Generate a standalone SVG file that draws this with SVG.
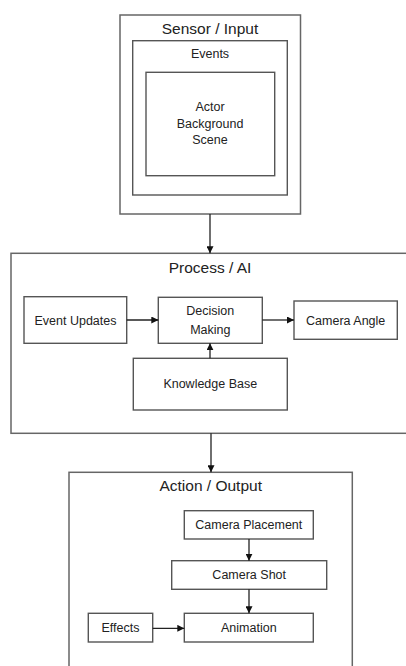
<svg xmlns="http://www.w3.org/2000/svg" width="406" height="666" viewBox="0 0 406 666">
<defs>
<marker id="ah" viewBox="0 0 10 10" refX="10" refY="5" markerWidth="7" markerHeight="7" markerUnits="userSpaceOnUse" orient="auto">
<path d="M0,0 L10,5 L0,10 z" fill="#111"/>
</marker>
</defs>
<style>
.box{fill:#fff;stroke:#555;stroke-width:1.4}
.big{fill:none;stroke:#666;stroke-width:1.5}
.t{font-family:"Liberation Sans",Arial,sans-serif;font-size:12.5px;fill:#222;text-anchor:middle}
.h{font-family:"Liberation Sans",Arial,sans-serif;font-size:15.5px;fill:#222;text-anchor:middle}
.c{stroke:#222;stroke-width:1.3;fill:none;marker-end:url(#ah)}
</style>
<rect width="406" height="666" fill="#fff"/>
<g id="sensor">
<rect class="big" x="120" y="15" width="180.5" height="199"/>
<text class="h" x="210" y="34">Sensor / Input</text>
</g>
<g id="events">
<rect class="box" x="132.7" y="40.7" width="154.6" height="154.3"/>
<text class="t" x="210" y="58">Events</text>
</g>
<g id="scene">
<rect class="box" x="146" y="72.3" width="128.7" height="103.4"/>
<text class="t" x="210" y="111">Actor</text>
<text class="t" x="210" y="127.7">Background</text>
<text class="t" x="210" y="144">Scene</text>
</g>
<g id="process">
<rect class="big" x="11" y="253.3" width="400" height="180"/>
<text class="h" x="210" y="273">Process / AI</text>
</g>
<g id="event-updates">
<rect class="box" x="24" y="296.7" width="102.7" height="46.6"/>
<text class="t" x="75.5" y="325">Event Updates</text>
</g>
<g id="decision">
<rect class="box" x="158.3" y="297.3" width="104" height="46"/>
<text class="t" x="210.3" y="315">Decision</text>
<text class="t" x="210.3" y="334">Making</text>
</g>
<g id="camera-angle">
<rect class="box" x="294" y="301" width="103.3" height="38.3"/>
<text class="t" x="345.7" y="325">Camera Angle</text>
</g>
<g id="knowledge">
<rect class="box" x="133.3" y="358.3" width="154" height="51.7"/>
<text class="t" x="210.3" y="388">Knowledge Base</text>
</g>
<g id="action">
<rect class="big" x="69" y="472.3" width="283.3" height="200"/>
<text class="h" x="210.7" y="491">Action / Output</text>
</g>
<g id="camera-placement">
<rect class="box" x="184.3" y="510.7" width="129" height="28.3"/>
<text class="t" x="248.8" y="529">Camera Placement</text>
</g>
<g id="camera-shot">
<rect class="box" x="171.7" y="560.7" width="155" height="28.6"/>
<text class="t" x="249.2" y="579.3">Camera Shot</text>
</g>
<g id="animation">
<rect class="box" x="184.3" y="613.3" width="129" height="28.7"/>
<text class="t" x="248.8" y="631.7">Animation</text>
</g>
<g id="effects">
<rect class="box" x="88.3" y="613.3" width="64.4" height="28.7"/>
<text class="t" x="120.5" y="631.7">Effects</text>
</g>
<g id="connectors">
<line class="c" x1="210" y1="214" x2="210" y2="253.3"/>
<line class="c" x1="126.7" y1="320" x2="158.3" y2="320"/>
<line class="c" x1="262.3" y1="320" x2="294" y2="320"/>
<line class="c" x1="210" y1="358.3" x2="210" y2="343.3"/>
<line class="c" x1="211" y1="433.3" x2="211" y2="472.3"/>
<line class="c" x1="249" y1="539" x2="249" y2="560.7"/>
<line class="c" x1="249" y1="589.3" x2="249" y2="613.3"/>
<line class="c" x1="152.7" y1="628.3" x2="184.3" y2="628.3"/>
</g>
</svg>
